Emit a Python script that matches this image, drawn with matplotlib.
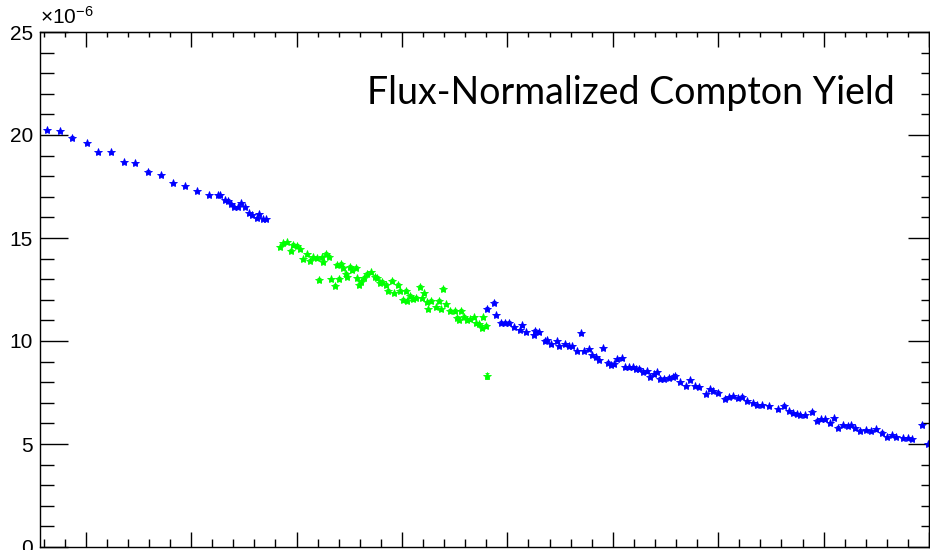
import matplotlib
matplotlib.use("Agg")
import matplotlib.pyplot as plt
from matplotlib.ticker import MultipleLocator, NullFormatter

# x in arbitrary run units (no labels shown), y in units of 1e-6
blue1_x = [63, 76, 87, 101, 112, 124, 136, 147, 159, 171, 183, 194, 206, 217,
           225, 227, 232, 235, 238, 241, 244, 247, 251, 255, 258, 262, 264, 268, 271]
blue1_y = [20.24, 20.19, 19.87, 19.60, 19.16, 19.16, 18.70, 18.63, 18.22, 18.07,
           17.68, 17.52, 17.27, 17.09, 17.07, 17.10, 16.84, 16.81, 16.64, 16.50,
           16.50, 16.70, 16.50, 16.20, 16.12, 15.96, 16.17, 15.92, 15.92]

green_x = [284, 287, 291, 295, 297, 300, 303, 306, 310, 313, 316, 319, 321, 324,
           325, 328, 331, 333, 336, 338, 340, 342, 344, 347, 348, 351, 353, 356,
           357, 359, 361, 364, 367, 371, 374, 376, 379, 381, 385, 387, 391, 392,
           396, 398, 401, 404, 405, 408, 410, 413, 417, 419, 421, 424, 425, 428,
           432, 435, 437, 439, 442, 446, 450, 452, 454, 456, 459, 462, 465, 468,
           470, 473, 476, 477, 480]
green_y = [14.55, 14.74, 14.79, 14.38, 14.66, 14.61, 14.45, 13.97, 14.21, 13.90,
           14.06, 14.01, 12.96, 14.06, 13.85, 14.22, 14.09, 13.00, 12.68, 13.69,
           13.01, 13.74, 13.56, 13.25, 13.12, 13.61, 13.45, 13.56, 13.04, 12.72,
           12.88, 13.07, 13.25, 13.33, 13.12, 13.04, 12.83, 12.88, 12.72, 12.44,
           12.91, 12.32, 12.72, 12.44, 11.99, 12.43, 11.96, 12.18, 12.04, 12.10,
           12.64, 12.07, 12.32, 11.88, 11.54, 11.94, 11.64, 11.94, 11.54, 12.52,
           11.78, 11.46, 11.46, 11.13, 11.02, 11.47, 11.18, 11.02, 11.05, 11.15,
           10.86, 10.81, 10.62, 11.15, 10.73]
green_out_x = [481]
green_out_y = [8.30]

blue2_x = [481, 487, 489, 494, 498, 502, 506, 512, 514, 518, 525, 526, 530, 536,
           538, 541, 547, 549, 555, 558, 561, 566, 570, 573, 577, 580, 584, 587,
           591, 595, 598, 601, 604, 609, 612, 615, 619, 622, 625, 629, 632, 635,
           639, 642, 645, 649, 653, 657, 659, 664, 669, 673, 678, 682, 688, 692,
           695, 700, 706, 710, 714, 719, 723, 727, 733, 737, 742, 748, 757, 762,
           767, 771, 775, 778, 782, 789, 794, 798, 801, 806, 810, 814, 818, 823,
           826, 830, 835, 840, 845, 850, 855, 860, 865, 869, 875, 880, 884, 893, 899]
blue2_y = [11.57, 11.86, 11.26, 10.89, 10.89, 10.89, 10.69, 10.53, 10.76, 10.42,
           10.29, 10.50, 10.42, 10.01, 10.05, 9.84, 10.01, 9.77, 9.84, 9.77,
           9.77, 9.51, 10.37, 9.51, 9.61, 9.32, 9.21, 9.08, 9.67, 8.95,
           8.83, 8.87, 9.11, 9.16, 8.72, 8.72, 8.72, 8.63, 8.66, 8.51,
           8.53, 8.27, 8.38, 8.50, 8.17, 8.17, 8.22, 8.27, 8.32, 8.02,
           7.82, 8.11, 7.82, 7.77, 7.43, 7.66, 7.57, 7.49, 7.20, 7.27,
           7.33, 7.22, 7.30, 7.10, 6.98, 6.88, 6.89, 6.84, 6.68, 6.86,
           6.60, 6.49, 6.46, 6.41, 6.39, 6.57, 6.13, 6.20, 6.20, 6.00,
           6.25, 5.79, 5.92, 5.87, 5.92, 5.76, 5.65, 5.68, 5.63, 5.71,
           5.55, 5.35, 5.44, 5.35, 5.28, 5.28, 5.23, 5.92, 4.99]

blue_err = 0.06
green_err = 0.08
green_out_err = 0.15

plt.rcParams['font.family'] = ['Liberation Sans', 'DejaVu Sans']
plt.rcParams['mathtext.fontset'] = 'custom'
plt.rcParams['mathtext.rm'] = 'Liberation Sans'
plt.rcParams['mathtext.it'] = 'Liberation Sans'

fig = plt.figure(figsize=(9.3, 5.5), dpi=100)
ax = fig.add_axes([40 / 930, 3 / 550, 889 / 930, 515 / 550])

style = dict(fmt='*', ms=6, capsize=1.5, elinewidth=1, capthick=1, mew=0.6)
ax.errorbar(blue1_x, blue1_y, yerr=blue_err, color='#0000ff', **style)
ax.errorbar(blue2_x, blue2_y, yerr=blue_err, color='#0000ff', **style)
ax.errorbar(green_x, green_y, yerr=green_err, color='#00ff00', **style)
ax.errorbar(green_out_x, green_out_y, yerr=green_out_err, color='#00ff00', **style)

ax.set_xlim(56.6, 900)
ax.set_ylim(0, 25)

ax.xaxis.set_major_locator(MultipleLocator(100))
ax.xaxis.set_minor_locator(MultipleLocator(20))
ax.yaxis.set_major_locator(MultipleLocator(5))
ax.yaxis.set_minor_locator(MultipleLocator(1))
ax.xaxis.set_major_formatter(NullFormatter())

ax.tick_params(axis='x', which='major', direction='in', length=11, width=1)
ax.tick_params(axis='x', which='minor', direction='in', length=6, width=1)
ax.tick_params(axis='y', which='major', direction='in', length=20, width=1,
               labelsize=15, pad=5)
ax.tick_params(axis='y', which='minor', direction='in', length=10, width=1)

# top and right ticks are shorter than bottom and left ones
top = ax.secondary_xaxis('top')
top.xaxis.set_major_locator(MultipleLocator(100))
top.xaxis.set_minor_locator(MultipleLocator(20))
top.tick_params(which='major', direction='in', length=10.5, width=1, labeltop=False)
top.tick_params(which='minor', direction='in', length=3.5, width=1)
right = ax.secondary_yaxis('right')
right.yaxis.set_major_locator(MultipleLocator(5))
right.yaxis.set_minor_locator(MultipleLocator(1))
right.tick_params(which='major', direction='in', length=15, width=1, labelright=False)
right.tick_params(which='minor', direction='in', length=6, width=1)

for s in ax.spines.values():
    s.set_linewidth(1)

ax.text(0.0, 1.008, r'$\times$10$^{-6}$', transform=ax.transAxes, fontsize=15,
        ha='left', va='bottom')

ax.text(0.9618, 0.860, 'Flux-Normalized Compton Yield', transform=ax.transAxes,
        fontsize=27, family='Lato', ha='right', va='baseline')

fig.savefig('out.png', dpi=100)
